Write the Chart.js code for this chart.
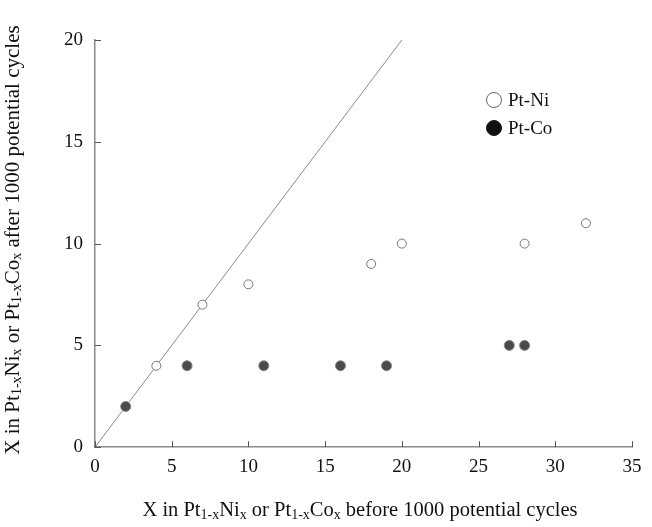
<!DOCTYPE html>
<html>
<head>
<meta charset="utf-8">
<script src="https://cdn.jsdelivr.net/npm/chart.js@4"></script>
<style>
  html, body { margin: 0; padding: 0; background: #fff; }
  #wrap { width: 652px; height: 527px; }
</style>
</head>
<body>
<div id="wrap"><canvas id="chart" width="652" height="527"></canvas></div>
<script>
// data
const ni_x = [4, 7, 10, 18, 20, 28, 32];
const ni_y = [4, 7, 8, 9, 10, 10, 11];
const co_x = [2, 6, 11, 16, 19, 27, 28];
const co_y = [2, 4, 4, 4, 4, 5, 5];
const ref_x = [0, 20];
const ref_y = [0, 20];
const x_ticks = [0, 5, 10, 15, 20, 25, 30, 35];
const y_ticks = [0, 5, 10, 15, 20];

const FONT = "'Liberation Serif', 'Times New Roman', serif";
const AXIS_COLOR = "#8a8a8a";

function pts(xs, ys) {
  return xs.map((x, i) => ({ x: x, y: ys[i] }));
}

// draws a run of text pieces, some of them as subscripts
function drawParts(ctx, parts, x, y, size, align) {
  const subSize = Math.round(size * 0.68);
  let total = 0;
  parts.forEach((p) => {
    ctx.font = (p.sub ? subSize : size) + "px " + FONT;
    total += ctx.measureText(p.t).width;
  });
  let cx = align === "center" ? x - total / 2 : x;
  parts.forEach((p) => {
    ctx.font = (p.sub ? subSize : size) + "px " + FONT;
    ctx.fillText(p.t, cx, p.sub ? y + size * 0.22 : y);
    cx += ctx.measureText(p.t).width;
  });
}

function titleParts(when) {
  return [
    { t: "X in Pt" }, { t: "1-x", sub: true }, { t: "Ni" }, { t: "x", sub: true },
    { t: " or Pt" }, { t: "1-x", sub: true }, { t: "Co" }, { t: "x", sub: true },
    { t: " " + when + " 1000 potential cycles" },
  ];
}

const extras = {
  id: "extras",
  afterDraw(chart) {
    const ctx = chart.ctx;
    const xs = chart.scales.x;
    const ys = chart.scales.y;
    const area = chart.chartArea;
    ctx.save();
    // inward tick marks
    ctx.strokeStyle = "#555";
    ctx.lineWidth = 1;
    x_ticks.forEach((v) => {
      const px = Math.round(xs.getPixelForValue(v)) + 0.5;
      ctx.beginPath();
      ctx.moveTo(px, area.bottom);
      ctx.lineTo(px, area.bottom - 6);
      ctx.stroke();
    });
    y_ticks.forEach((v) => {
      const py = Math.round(ys.getPixelForValue(v)) + 0.5;
      ctx.beginPath();
      ctx.moveTo(area.left, py);
      ctx.lineTo(area.left + 6, py);
      ctx.stroke();
    });

    // axis titles
    ctx.fillStyle = "#111";
    ctx.textBaseline = "middle";
    ctx.textAlign = "left";
    drawParts(ctx, titleParts("before"), 360, 511, 20.5, "center");
    ctx.save();
    ctx.translate(13, 240);
    ctx.rotate(-Math.PI / 2);
    drawParts(ctx, titleParts("after"), 0, 0, 21, "center");
    ctx.restore();

    // legend
    const items = [
      { label: "Pt-Ni", fill: "#fff", stroke: "#666" },
      { label: "Pt-Co", fill: "#111", stroke: "#111" },
    ];
    items.forEach((it, i) => {
      const cy = 100 + i * 28;
      ctx.beginPath();
      ctx.arc(494, cy, 7.5, 0, Math.PI * 2);
      ctx.fillStyle = it.fill;
      ctx.fill();
      ctx.strokeStyle = it.stroke;
      ctx.lineWidth = 1;
      ctx.stroke();
      ctx.fillStyle = "#111";
      ctx.font = "19px " + FONT;
      ctx.fillText(it.label, 508, cy + 1);
    });
    ctx.restore();
  },
};

new Chart(document.getElementById("chart"), {
  type: "scatter",
  data: {
    datasets: [
      {
        label: "y = x",
        type: "line",
        data: pts(ref_x, ref_y),
        borderColor: "#8a8a8a",
        borderWidth: 1,
        pointRadius: 0,
        fill: false,
        order: 3,
      },
      {
        label: "Pt-Ni",
        data: pts(ni_x, ni_y),
        pointRadius: 4.5,
        pointBackgroundColor: "#fff",
        pointBorderColor: "#777",
        pointBorderWidth: 1,
        order: 1,
      },
      {
        label: "Pt-Co",
        data: pts(co_x, co_y),
        pointRadius: 5,
        pointBackgroundColor: "#4a4a4a",
        pointBorderColor: "#888",
        pointBorderWidth: 1,
        order: 2,
      },
    ],
  },
  options: {
    responsive: false,
    animation: false,
    layout: { padding: { left: 52, right: 20, top: 40, bottom: 41 } },
    plugins: { legend: { display: false }, tooltip: { enabled: false } },
    scales: {
      x: {
        type: "linear",
        min: 0,
        max: 35,
        afterBuildTicks: (s) => { s.ticks = x_ticks.map((v) => ({ value: v })); },
        ticks: { color: "#111", font: { family: FONT, size: 19 }, padding: 8 },
        grid: { display: false, drawTicks: false },
        border: { display: true, color: AXIS_COLOR, width: 1.5 },
      },
      y: {
        type: "linear",
        min: 0,
        max: 20,
        afterBuildTicks: (s) => { s.ticks = y_ticks.map((v) => ({ value: v })); },
        ticks: { color: "#111", font: { family: FONT, size: 19 }, padding: 12 },
        grid: { display: false, drawTicks: false },
        border: { display: true, color: AXIS_COLOR, width: 1.5, dash: [1, 1] },
      },
    },
  },
  plugins: [extras],
});
</script>
</body>
</html>
